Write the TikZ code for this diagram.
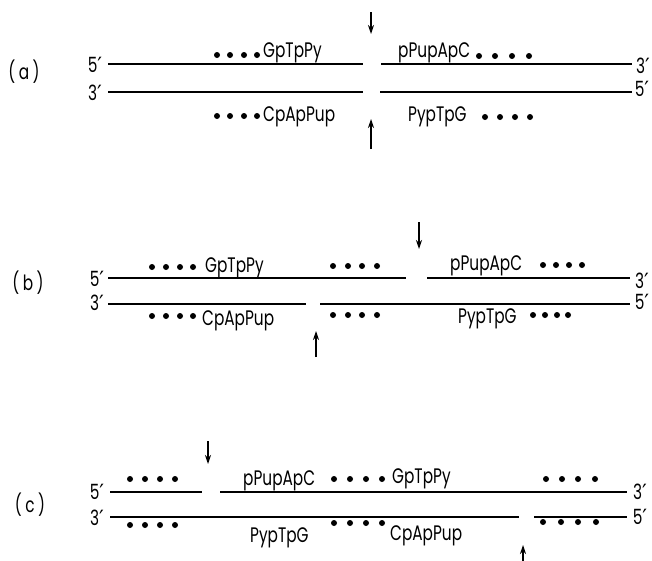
\documentclass[tikz,border=0pt]{standalone}
\usepackage{fontspec}
\setmainfont[FakeStretch=0.73]{Poppins}
\newfontfamily\pf{DejaVu Sans}
\usetikzlibrary{arrows.meta}
\newcommand{\pr}{{\pf ′}}
\tikzset{
  strand/.style={line width=1.2pt, line cap=butt},
  seq/.style={inner sep=0pt, font=\fontsize{21}{21}\selectfont},
  endlab/.style={inner sep=0pt, font=\fontsize{21}{21}\selectfont},
  panel/.style={inner sep=0pt, font=\fontsize{21}{21}\selectfont},
  cut/.style={line width=1.2pt, -{Stealth[length=9pt,width=6pt]}},
  dotf/.style={fill=black}
}
\newcommand{\fourdots}[5]{%
  \foreach \xx in {#1,#2,#3,#4} {\fill[dotf] (\xx,#5) circle (3);}}
\begin{document}
\begin{tikzpicture}[x=1pt,y=-1pt]
\clip (0,0) rectangle (652,560);
\fill[white] (0,0) rectangle (652,560);

% ---------------- (a)
\node[panel] (la) at (24,72) {(\,a\,)};
\node[endlab] (a5l) at (95,65) {5\pr};
\node[endlab] (a3l) at (95,93) {3\pr};
\node[endlab] (a3r) at (643,66) {3\pr};
\node[endlab] (a5r) at (642,89) {5\pr};
\coordinate (at1) at (108,64); \coordinate (at2) at (363,64);
\coordinate (at3) at (381,64); \coordinate (at4) at (632,64);
\coordinate (ab1) at (108,92); \coordinate (ab2) at (363,92);
\coordinate (ab3) at (380,92); \coordinate (ab4) at (632,92);
\draw[strand] (at1) -- (at2); \draw[strand] (at3) -- (at4);
\draw[strand] (ab1) -- (ab2); \draw[strand] (ab3) -- (ab4);
\coordinate (ad1) at (371,12); \coordinate (ad2) at (371,34);
\coordinate (au1) at (371,149); \coordinate (au2) at (371,119);
\draw[cut] (ad1) -- (ad2);
\draw[cut] (au1) -- (au2);
\fourdots{217}{230}{244}{257}{55}
\node[seq, anchor=base west] (aG) at (263,57) {GpTpPy};
\node[seq, anchor=base west] (aP) at (398,57) {pPupApC};
\fourdots{479}{495}{512}{529}{56}
\fourdots{217}{230}{244}{257}{116}
\node[seq, anchor=base west] (aC) at (263,121) {CpApPup};
\node[seq, anchor=base west] (aY) at (408,121) {PypTpG};
\fourdots{485}{500}{515}{530}{117}

% ---------------- (b)
\node[panel] (lb) at (28,283) {(\,b\,)};
\node[endlab] (b5l) at (97,279) {5\pr};
\node[endlab] (b3l) at (97,303) {3\pr};
\node[endlab] (b3r) at (642,281) {3\pr};
\node[endlab] (b5r) at (642,302) {5\pr};
\coordinate (bt1) at (108,278); \coordinate (bt2) at (406,278);
\coordinate (bt3) at (427,278); \coordinate (bt4) at (630,278);
\coordinate (bb1) at (108,304); \coordinate (bb2) at (306,304);
\coordinate (bb3) at (320,304); \coordinate (bb4) at (630,304);
\draw[strand] (bt1) -- (bt2); \draw[strand] (bt3) -- (bt4);
\draw[strand] (bb1) -- (bb2); \draw[strand] (bb3) -- (bb4);
\coordinate (bd1) at (419,222); \coordinate (bd2) at (419,249);
\coordinate (bu1) at (316,357); \coordinate (bu2) at (316,331);
\draw[cut] (bd1) -- (bd2);
\draw[cut] (bu1) -- (bu2);
\fourdots{152}{166}{180}{193}{267}
\node[seq, anchor=base west] (bG) at (205,272) {GpTpPy};
\fourdots{333}{348}{362}{377}{266}
\node[seq, anchor=base west] (bP) at (450,270) {pPupApC};
\fourdots{543}{556}{569}{582}{265}
\fourdots{152}{166}{180}{193}{316}
\node[seq, anchor=base west] (bC) at (202,325) {CpApPup};
\fourdots{333}{348}{362}{377}{315}
\node[seq, anchor=base west] (bY) at (458,323) {PypTpG};
\fourdots{533}{545}{557}{568}{315}

% ---------------- (c)
\node[panel] (lc) at (30,505) {(\,c\,)};
\node[endlab] (c5l) at (97,492) {5\pr};
\node[endlab] (c3l) at (97,518) {3\pr};
\node[endlab] (c3r) at (640,492) {3\pr};
\node[endlab] (c5r) at (640,517) {5\pr};
\coordinate (ct1) at (110,492); \coordinate (ct2) at (202,492);
\coordinate (ct3) at (220,492); \coordinate (ct4) at (627,492);
\coordinate (cb1) at (110,517); \coordinate (cb2) at (519,517);
\coordinate (cb3) at (534,517); \coordinate (cb4) at (627,517);
\draw[strand] (ct1) -- (ct2); \draw[strand] (ct3) -- (ct4);
\draw[strand] (cb1) -- (cb2); \draw[strand] (cb3) -- (cb4);
\coordinate (cd1) at (208,441); \coordinate (cd2) at (208,464);
\coordinate (cu1) at (523,566); \coordinate (cu2) at (523,545);
\draw[cut] (cd1) -- (cd2);
\draw[cut] (cu1) -- (cu2);
\fourdots{130}{145}{160}{175}{479}
\node[seq, anchor=base west] (cP) at (243,485) {pPupApC};
\fourdots{334}{350}{366}{382}{479}
\node[seq, anchor=base west] (cG) at (392,483) {GpTpPy};
\fourdots{546}{562}{578}{595}{479}
\fourdots{130}{145}{160}{175}{525}
\node[seq, anchor=base west] (cY) at (250,542) {PypTpG};
\fourdots{334}{350}{366}{382}{523}
\node[seq, anchor=base west] (cC) at (390,540) {CpApPup};
\fourdots{543}{561}{578}{596}{522}
\end{tikzpicture}
\end{document}
